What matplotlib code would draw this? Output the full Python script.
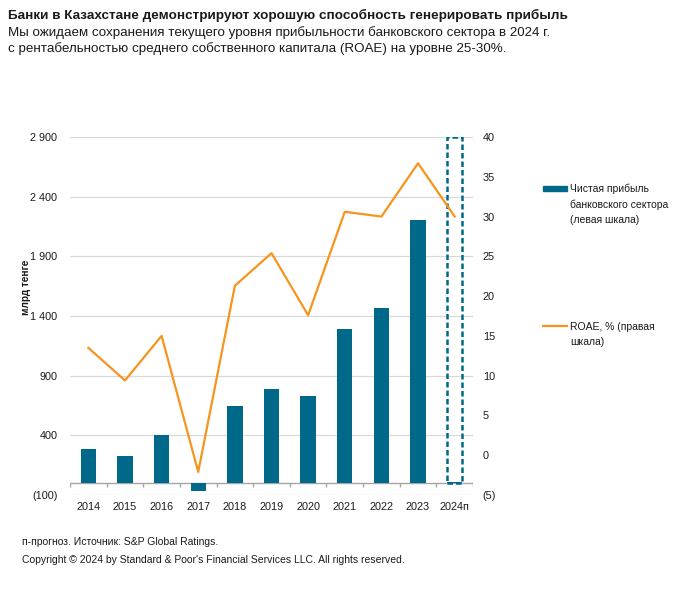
import matplotlib
matplotlib.use("Agg")
import matplotlib.pyplot as plt
from matplotlib.lines import Line2D
from matplotlib.patches import Rectangle
from matplotlib.ticker import FuncFormatter
import numpy as np

plt.rcParams['font.family'] = ['Liberation Sans', 'DejaVu Sans']

# data
years = ['2014', '2015', '2016', '2017', '2018', '2019', '2020',
         '2021', '2022', '2023', '2024п']
net_profit = [288, 224, 400, -67, 647, 792, 728, 1291, 1464, 2204, 12]
roae = [13.5, 9.4, 15.0, -2.1, 21.3, 25.4, 17.6, 30.6, 30.0, 36.7, 30.0]
forecast_box = [None] * 10 + [2900]

left_ticks = [-100, 400, 900, 1400, 1900, 2400, 2900]
right_ticks = [-5, 0, 5, 10, 15, 20, 25, 30, 35, 40]

teal = '#00698A'
orange = '#F7941D'
grid_c = '#D9D9D9'
axis_c = '#A6A6A6'
txt_c = '#1a1a1a'


def fmt_num(v, pos=None):
    if v < 0:
        return '(' + f'{-v:,.0f}'.replace(',', ' ') + ')'
    return f'{v:,.0f}'.replace(',', ' ')


fig = plt.figure(figsize=(7, 5.9), dpi=100)
ax = fig.add_axes([70 / 700, 1 - 495 / 590, 403 / 700, 358 / 590])
ax2 = ax.twinx()

x = np.arange(len(years))
ax.bar(x, net_profit, width=0.42, color=teal, zorder=3)
# dashed box marking the forecast year
for i, v in enumerate(forecast_box):
    if v is not None:
        ax.bar(i, v, width=0.42, fill=False, edgecolor=teal,
               linestyle=(0, (2.2, 1.2)), linewidth=1.8, zorder=4)

ax2.plot(x, roae, color=orange, linewidth=1.6, zorder=5)

ax.set_xlim(-0.5, len(years) - 0.5)
ax.set_ylim(-100, 2900)
ax2.set_ylim(-5, 40)

ax.set_yticks(left_ticks)
ax.yaxis.set_major_formatter(FuncFormatter(fmt_num))
ax2.set_yticks(right_ticks)
ax2.yaxis.set_major_formatter(FuncFormatter(fmt_num))

ax.grid(axis='y', color=grid_c, linewidth=0.9, zorder=0)
ax.set_axisbelow(True)

for a in (ax, ax2):
    for s in a.spines.values():
        s.set_visible(False)

# category axis sits at zero
ax.axhline(0, color=axis_c, linewidth=1.0, zorder=2)
ax.set_xticks(x)
ax.set_xticklabels(years)
ax.tick_params(axis='x', length=0, pad=5, labelsize=7.8, colors=txt_c)
ax.vlines(np.arange(-0.5, len(years)), -33, 0, color=axis_c,
          linewidth=1.0, zorder=2)

ax.tick_params(axis='y', length=0, pad=9, labelsize=7.8, colors=txt_c)
ax2.tick_params(axis='y', length=0, pad=7, labelsize=7.8, colors=txt_c)

ax.set_ylabel('млрд тенге', fontsize=7.2, fontweight='bold', color=txt_c)
ax.yaxis.set_label_coords(-0.097, 0.58)

# titles
fig.text(8 / 700, 1 - 9 / 590, 'Банки в Казахстане демонстрируют хорошую способность генерировать прибыль',
         fontsize=9.7, fontweight='bold', color=txt_c, va='top', ha='left')
fig.text(8 / 700, 1 - 26 / 590,
         'Мы ожидаем сохранения текущего уровня прибыльности банковского сектора в 2024 г.\n'
         'с рентабельностью среднего собственного капитала (ROAE) на уровне 25-30%.',
         fontsize=9.65, color=txt_c, va='top', ha='left', linespacing=1.28)

# legend drawn by hand
fig.add_artist(Rectangle((543 / 700, 1 - 191 / 590), 24 / 700, 5 / 590,
                         color=teal, transform=fig.transFigure))
fig.text(570 / 700, 1 - 184 / 590, 'Чистая прибыль\nбанковского сектора\n(левая шкала)',
         fontsize=7.5, color=txt_c, va='top', ha='left', linespacing=1.6)
fig.add_artist(Line2D([543 / 700, 567 / 700], [1 - 326 / 590, 1 - 326 / 590],
                      color=orange, linewidth=1.6, transform=fig.transFigure))
fig.text(570 / 700, 1 - 322 / 590, 'ROAE, % (правая\nшкала)',
         fontsize=7.5, color=txt_c, va='top', ha='left', linespacing=1.6)

# footer
fig.text(22 / 700, 1 - 537 / 590, 'п-прогноз. Источник: S&P Global Ratings.',
         fontsize=7.5, color=txt_c, va='top', ha='left')
fig.text(22 / 700, 1 - 555 / 590,
         'Copyright © 2024 by Standard & Poor\'s Financial Services LLC. All rights reserved.',
         fontsize=7.5, color=txt_c, va='top', ha='left')

fig.savefig('out.png', dpi=100)
